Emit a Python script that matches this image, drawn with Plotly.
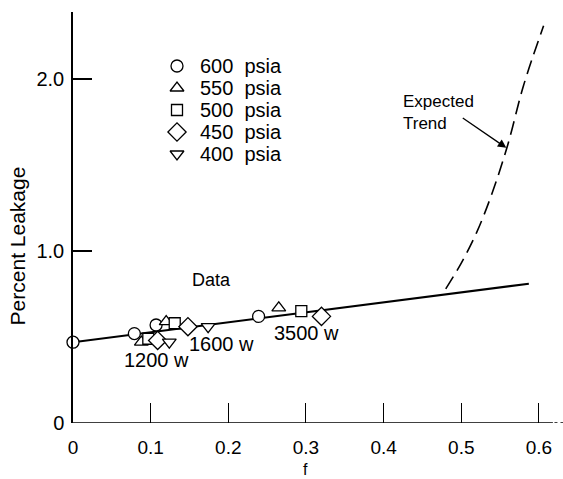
import plotly.graph_objects as go

# ---- data ----
labels = ["600 psia", "550 psia", "500 psia", "450 psia", "400 psia"]
symbols = ["circle", "triangle-up", "square", "diamond", "triangle-down"]
sizes = [12, 12, 11, 14, 12]
legend_rows = [0, 1, 2, 3, 4]

f_600 = [0.0, 0.079, 0.107, 0.239]
y_600 = [0.47, 0.52, 0.57, 0.62]
f_550 = [0.088, 0.120, 0.265]
y_550 = [0.47, 0.59, 0.67]
f_500 = [0.097, 0.131, 0.294]
y_500 = [0.49, 0.58, 0.65]
f_450 = [0.109, 0.148, 0.320]
y_450 = [0.48, 0.56, 0.62]
f_400 = [0.124, 0.174]
y_400 = [0.47, 0.56]

fit_f = [0.0, 0.587]
fit_y = [0.47, 0.81]

trend_f = [0.48, 0.50, 0.52, 0.54, 0.56, 0.58, 0.606]
trend_y = [0.78, 0.93, 1.11, 1.34, 1.62, 1.96, 2.31]

x_ticks = [0, 0.1, 0.2, 0.3, 0.4, 0.5, 0.6]
x_ticktext = ["0", "0.1", "0.2", "0.3", "0.4", "0.5", "0.6"]
y_ticks = [0, 1, 2]
y_ticktext = ["0", "1.0", "2.0"]

power_labels = ["1200 w", "1600 w", "3500 w"]
power_f = [0.108, 0.191, 0.301]
power_y = [0.366, 0.46, 0.523]

FONT = "Liberation Sans, Arial, sans-serif"

fig = go.Figure()

fig.add_trace(go.Scatter(x=fit_f, y=fit_y, mode="lines",
                         line=dict(color="black", width=2), showlegend=False,
                         hoverinfo="skip"))
fig.add_trace(go.Scatter(x=trend_f, y=trend_y, mode="lines",
                         line=dict(color="black", width=1.6, dash="14px,7px",
                                   shape="spline"),
                         showlegend=False, hoverinfo="skip"))

series = [(f_600, y_600), (f_550, y_550), (f_500, y_500), (f_450, y_450), (f_400, y_400)]
for (fx, fy), name, sym, sz, row in zip(series, labels, symbols, sizes, legend_rows):
    mk = dict(symbol=sym, size=sz, color="white", line=dict(color="black", width=1.3))
    fig.add_trace(go.Scatter(x=fx, y=fy, mode="markers", name=name,
                             marker=mk, cliponaxis=False, showlegend=False))
    # key entry drawn on a small overlay axis
    fig.add_trace(go.Scatter(x=[0], y=[row], mode="markers", marker=mk,
                             xaxis="x2", yaxis="y2", showlegend=False,
                             cliponaxis=False, hoverinfo="skip"))

annotations = []
for name, row in zip(labels, legend_rows):
    num, unit = name.split(" ")
    annotations.append(dict(x=0.17, y=row, xref="x2", yref="y2",
                            text=num + "\u00a0\u00a0" + unit, showarrow=False,
                            xanchor="left", yanchor="middle", font=dict(size=20)))
annotations.append(dict(x=0.178, y=0.83, xref="x", yref="y", text="Data",
                        showarrow=False, font=dict(size=18)))
for t, fx, fy in zip(power_labels, power_f, power_y):
    annotations.append(dict(x=fx, y=fy, xref="x", yref="y", text=t,
                            showarrow=False, font=dict(size=20)))
annotations.append(dict(x=0.423, y=1.805, xref="x", yref="y",
                        text="Expected<br>Trend", showarrow=False,
                        xanchor="left", align="left", font=dict(size=17)))
annotations.append(dict(x=0.558, y=1.60, xref="x", yref="y",
                        ax=0.50, ay=1.78, axref="x", ayref="y",
                        text="", showarrow=True, arrowhead=2, arrowsize=1.3,
                        arrowwidth=1.3, arrowcolor="black"))
annotations.append(dict(x=-0.114, y=0.43, xref="paper", yref="paper",
                        xanchor="center", yanchor="middle",
                        text="Percent Leakage", textangle=-90, showarrow=False,
                        font=dict(size=21)))
annotations.append(dict(x=0.3, y=-0.112, xref="x", yref="paper",
                        xanchor="center", yanchor="middle",
                        text="f", showarrow=False, font=dict(size=16)))

shapes = [
    dict(type="line", xref="x", yref="y", x0=0, x1=0.618, y0=0, y1=0,
         line=dict(color="black", width=1.5)),
    dict(type="line", xref="x", yref="y", x0=0.620, x1=0.631, y0=0, y1=0,
         line=dict(color="black", width=1.5, dash="dot")),
]

fig.update_layout(
    width=563, height=479, autosize=False,
    margin=dict(l=73, r=0, t=12, b=56),
    paper_bgcolor="white", plot_bgcolor="white",
    font=dict(family=FONT, color="black", size=19),
    showlegend=False,
    annotations=annotations,
    shapes=shapes,
    xaxis=dict(range=[0, 0.631], tickvals=x_ticks, ticktext=x_ticktext,
               ticks="inside", ticklen=20, tickwidth=1.2, tickcolor="black",
               showline=False, showgrid=False, zeroline=False,
               ticklabelstandoff=11, tickfont=dict(size=19)),
    yaxis=dict(range=[0, 2.39], tickvals=y_ticks, ticktext=y_ticktext,
               ticks="inside", ticklen=19, tickwidth=1.5, tickcolor="black",
               showline=True, linecolor="black", linewidth=1.5,
               showgrid=False, zeroline=False,
               ticklabelstandoff=3, tickfont=dict(size=20)),
    xaxis2=dict(domain=[(177 - 73) / 490, (300 - 73) / 490], range=[0, 1],
                anchor="y2", visible=False, fixedrange=True),
    yaxis2=dict(domain=[(423 - 154) / 411, (423 - 66) / 411], range=[4, 0],
                anchor="x2", visible=False, fixedrange=True),
)

fig.write_html("out.html", config={"displayModeBar": False},
               post_script="document.body.style.margin='0px';")
